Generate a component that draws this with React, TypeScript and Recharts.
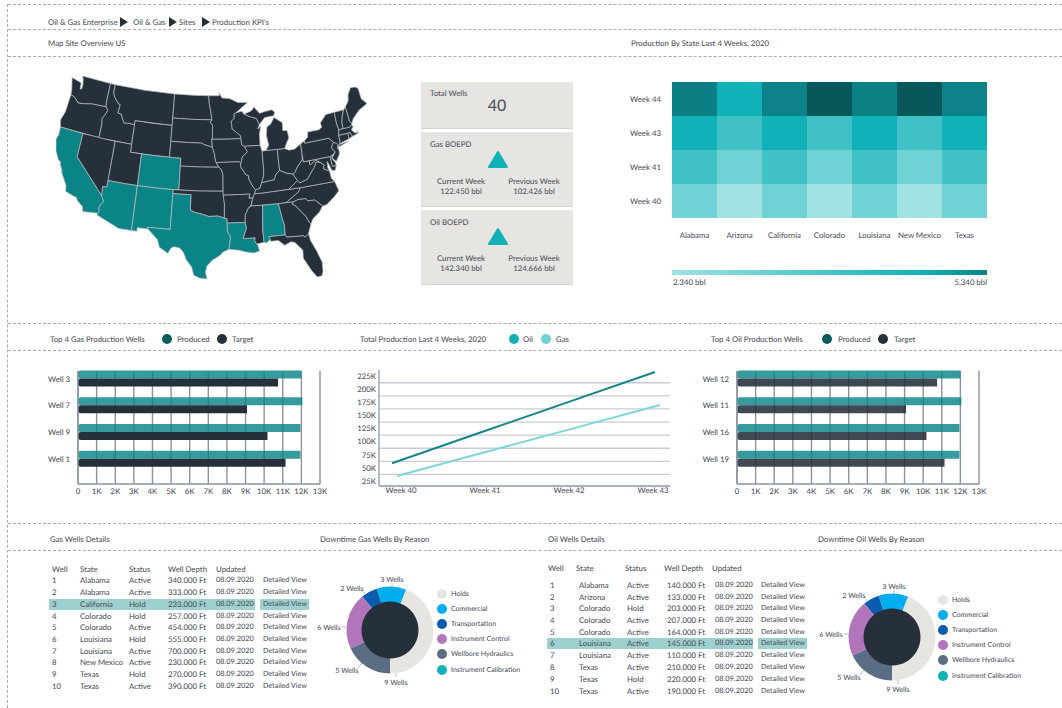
import React from 'react';
import {
  BarChart, Bar, XAxis, YAxis, CartesianGrid, ComposedChart, Line, ScatterChart, Scatter, PieChart, Pie, Cell,
} from 'recharts';

const FONT = 'Lato, sans-serif';
const TEXT = '#50565e';
const TEAL = '#0b8488';
const DARK = '#25303a';

// ---------- data ----------
const barTicks = [0, 1000, 2000, 3000, 4000, 5000, 6000, 7000, 8000, 9000, 10000, 11000, 12000, 13000];
const gasWellNames = ['Well 3', 'Well 7', 'Well 9', 'Well 1'];
const gasProduced = [12000, 12050, 11950, 11950];
const gasTarget = [10750, 9080, 10180, 11150];
const oilWellNames = ['Well 12', 'Well 11', 'Well 16', 'Well 19'];
const oilProduced = [12000, 12050, 11950, 11950];
const oilTarget = [10750, 9080, 10180, 11150];

const lineWeeks = ['Week 40', 'Week 41', 'Week 42', 'Week 43'];
const oilTotals = [59000, 117000, 175000, 233000];
const gasTotals = [34500, 80000, 125000, 170000];
const totalTicks = [25000, 50000, 75000, 100000, 125000, 150000, 175000, 200000, 225000];
const totalGridValues = [37500, 62500, 87500, 112500, 137500, 162500, 187500, 212500];

const heatStates = ['Alabama', 'Arizona', 'California', 'Colorado', 'Louisiana', 'New Mexico', 'Texas'];
const heatWeeks = ['Week 44', 'Week 43', 'Week 41', 'Week 40'];
const week44 = [4.85, 4.0, 4.8, 5.34, 4.82, 5.34, 4.8];
const week43 = [4.0, 3.4, 4.0, 3.4, 4.0, 3.4, 4.0];
const week41 = [3.4, 2.9, 3.4, 2.9, 3.4, 2.9, 3.4];
const week40 = [2.9, 2.34, 2.9, 2.34, 2.9, 2.34, 2.9];
const heatValues = [week44, week43, week41, week40];

const reasons = ['Holds', 'Commercial', 'Transportation', 'Instrument Control', 'Wellbore Hydraulics', 'Instrument Calibration'];
const reasonWells = ['9 Wells', '3 Wells', '2 Wells', '6 Wells', '5 Wells', ''];
const reasonShare = [44, 11, 6, 21, 18, 0];

const gasNo = ['1', '2', '3', '4', '5', '6', '7', '8', '9', '10'];
const gasStates = ['Alabama', 'Alabama', 'California', 'Colorado', 'Colorado', 'Louisiana', 'Louisiana', 'New Mexico', 'Texas', 'Texas'];
const gasStatus = ['Active', 'Active', 'Hold', 'Hold', 'Active', 'Hold', 'Active', 'Active', 'Hold', 'Active'];
const gasDepth = ['340.000 Ft', '333.000 Ft', '233.000 Ft', '257.000 Ft', '454.000 Ft', '555.000 Ft', '700.000 Ft', '230.000 Ft', '270.000 Ft', '390.000 Ft'];
const oilNo = ['1', '2', '3', '4', '5', '6', '7', '8', '9', '10'];
const oilStates = ['Alabama', 'Arizona', 'Colorado', 'Colorado', 'Colorado', 'Louisiana', 'Louisiana', 'Texas', 'Texas', 'Texas'];
const oilStatus = ['Active', 'Active', 'Hold', 'Active', 'Active', 'Active', 'Active', 'Active', 'Hold', 'Active'];
const oilDepth = ['140.000 Ft', '133.000 Ft', '203.000 Ft', '207.000 Ft', '164.000 Ft', '145.000 Ft', '110.000 Ft', '210.000 Ft', '220.000 Ft', '190.000 Ft'];

const activeStates = ['CA', 'AZ', 'CO', 'NM', 'TX', 'LA', 'AL'];

// state outlines, [longitude, latitude]
const stateShapes: Record<string, number[][]> = {
  WA: [[-124.7,48.4],[-123.2,48.2],[-122.7,48.1],[-122.6,47.3],[-122.3,47.4],[-122.3,48.0],[-122.5,48.6],[-122.8,49],[-117.03,49],[-117.04,46.4],[-116.92,45.99],[-119,45.93],[-119.6,45.92],[-121.2,45.65],[-122.3,45.55],[-122.8,45.9],[-123.4,46.2],[-124,46.25],[-124.1,46.9]],
  OR: [[-124,46.25],[-123.4,46.2],[-122.8,45.9],[-122.3,45.55],[-121.2,45.65],[-119.6,45.92],[-119,45.93],[-116.92,45.99],[-116.46,45.6],[-116.85,44.9],[-117.2,44.4],[-117.03,43.8],[-117.03,42],[-124.2,42],[-124.55,42.84],[-124.1,44]],
  CA: [[-124.2,42],[-120,42],[-120,39],[-114.63,35],[-114.14,34.3],[-114.43,34],[-114.72,33.4],[-114.52,33.03],[-114.72,32.72],[-117.12,32.53],[-117.3,33.1],[-118.4,33.75],[-118.5,34.03],[-119.2,34.15],[-120.5,34.45],[-120.65,35.15],[-121.9,36.6],[-122,36.96],[-122.5,37.5],[-122.5,37.8],[-123,38],[-123.8,39],[-124.35,40.4],[-124.1,41]],
  NV: [[-120,42],[-114.04,42],[-114.04,36.2],[-114.75,36.1],[-114.63,35],[-120,39]],
  ID: [[-117.03,49],[-116.05,49],[-116.05,48],[-115.7,47.45],[-114.7,46.7],[-114.35,46.65],[-114.5,45.55],[-113.8,45.5],[-113.45,44.95],[-113,44.45],[-112.3,44.55],[-111.05,44.48],[-111.05,42],[-117.03,42],[-117.03,43.8],[-117.2,44.4],[-116.85,44.9],[-116.46,45.6],[-116.92,45.99],[-117.04,46.4]],
  MT: [[-116.05,49],[-110,49],[-104.05,49],[-104.05,45],[-111.05,45],[-111.05,44.48],[-112.3,44.55],[-113,44.45],[-113.45,44.95],[-113.8,45.5],[-114.5,45.55],[-114.35,46.65],[-114.7,46.7],[-115.7,47.45],[-116.05,48]],
  WY: [[-111.05,45],[-107.5,45],[-104.05,45],[-104.05,41],[-107.5,41],[-111.05,41]],
  UT: [[-114.04,42],[-111.05,42],[-111.05,41],[-109.05,41],[-109.05,37],[-111.5,37],[-114.04,37]],
  CO: [[-109.05,41],[-105.5,41],[-102.05,41],[-102.05,37],[-105.5,37],[-109.05,37]],
  AZ: [[-114.04,37],[-111.5,37],[-109.05,37],[-109.05,31.33],[-111.07,31.33],[-114.81,32.5],[-114.72,32.72],[-114.52,33.03],[-114.72,33.4],[-114.43,34],[-114.14,34.3],[-114.63,35],[-114.75,36.1],[-114.04,36.2]],
  NM: [[-109.05,37],[-105.5,37],[-103,37],[-103.04,32],[-106.62,32],[-106.53,31.78],[-108.21,31.78],[-108.21,31.33],[-109.05,31.33]],
  ND: [[-104.05,49],[-100.5,49],[-97.23,49],[-97.1,48],[-96.8,47],[-96.56,45.94],[-100.5,45.94],[-104.05,45.94]],
  SD: [[-104.05,45.94],[-100.5,45.94],[-96.56,45.94],[-96.85,45.6],[-96.45,45.3],[-96.45,43.5],[-96.6,43.5],[-96.44,42.49],[-97.9,42.8],[-98.5,43],[-101,43],[-104.05,43]],
  NE: [[-104.05,43],[-101,43],[-98.5,43],[-97.9,42.8],[-96.44,42.49],[-96.1,41.7],[-95.85,40.7],[-95.31,40],[-98.5,40],[-102.05,40],[-102.05,41],[-104.05,41]],
  KS: [[-102.05,40],[-98.5,40],[-95.31,40],[-94.9,39.75],[-94.61,39.1],[-94.62,37],[-98.5,37],[-102.05,37]],
  OK: [[-103,37],[-98.5,37],[-94.62,37],[-94.43,35.4],[-94.48,33.64],[-95.5,33.9],[-97,33.85],[-98,34.1],[-99.2,34.3],[-100,34.56],[-100,36.5],[-103,36.5]],
  TX: [[-103,36.5],[-100,36.5],[-100,34.56],[-99.2,34.3],[-98,34.1],[-97,33.85],[-95.5,33.9],[-94.48,33.64],[-94.04,33.55],[-94.04,33],[-94.04,32],[-93.55,31.2],[-93.7,30.5],[-93.84,29.7],[-94.7,29.4],[-95.3,28.9],[-96.4,28.35],[-97.2,27.6],[-97.4,26.8],[-97.15,25.96],[-98.2,26.05],[-99.1,26.4],[-99.5,27.5],[-100.3,28.3],[-100.8,29.25],[-101.4,29.77],[-102.3,29.88],[-102.7,29.7],[-103.15,28.98],[-104.5,29.65],[-104.9,30.6],[-106.53,31.78],[-106.62,32],[-103.04,32]],
  MN: [[-97.23,49],[-95.15,49],[-95.15,49.38],[-94.6,48.72],[-93,48.6],[-91.5,48.07],[-89.6,48],[-92,46.75],[-92.3,46.65],[-92.3,46.1],[-92.9,45.7],[-92.75,44.75],[-91.25,43.85],[-91.22,43.5],[-94,43.5],[-96.45,43.5],[-96.45,45.3],[-96.85,45.6],[-96.56,45.94],[-96.8,47],[-97.1,48]],
  IA: [[-96.45,43.5],[-94,43.5],[-91.22,43.5],[-91.1,42.7],[-90.64,42.5],[-90.15,41.8],[-91.1,41.2],[-91.42,40.38],[-91.73,40.61],[-95.77,40.58],[-95.85,40.7],[-96.1,41.7],[-96.44,42.49],[-96.6,43.5]],
  MO: [[-95.77,40.58],[-91.73,40.61],[-91.42,40.38],[-91.5,40],[-90.7,39],[-90.2,38.8],[-90.2,38.4],[-89.5,37.3],[-89.15,36.98],[-89.4,36.5],[-89.7,36],[-90.37,36],[-90.15,36.5],[-94.62,36.5],[-94.62,37],[-94.61,39.1],[-94.9,39.75],[-95.31,40]],
  AR: [[-94.62,36.5],[-90.15,36.5],[-90.37,36],[-89.7,36],[-90.1,35.1],[-90.6,34.7],[-91.1,33.9],[-91.17,33],[-94.04,33],[-94.04,33.55],[-94.48,33.64],[-94.43,35.4]],
  LA: [[-94.04,33],[-91.17,33],[-91,32.3],[-91.6,31],[-89.73,31],[-89.85,30.65],[-89.55,30.2],[-89.4,30.05],[-89.2,29.3],[-90.1,29.1],[-91.3,29.3],[-92.3,29.55],[-93.84,29.7],[-93.7,30.5],[-93.55,31.2],[-94.04,32]],
  WI: [[-92.3,46.65],[-92,46.75],[-90.8,46.95],[-90.4,46.55],[-89.1,46.13],[-88.1,45.9],[-87.6,45.1],[-88,44.55],[-87.4,44.9],[-87.75,43.9],[-87.8,42.49],[-90.64,42.5],[-91.1,42.7],[-91.22,43.5],[-91.25,43.85],[-92.75,44.75],[-92.9,45.7],[-92.3,46.1]],
  IL: [[-90.64,42.5],[-87.8,42.49],[-87.53,41.7],[-87.53,39.35],[-87.6,38.7],[-88.05,37.8],[-88.45,37.1],[-89.15,36.98],[-89.5,37.3],[-90.2,38.4],[-90.2,38.8],[-90.7,39],[-91.5,40],[-91.42,40.38],[-91.1,41.2],[-90.15,41.8]],
  IN: [[-87.53,41.7],[-87.2,41.75],[-86.82,41.76],[-84.8,41.76],[-84.8,39.1],[-85.45,38.7],[-85.9,38],[-86.8,37.95],[-88.05,37.8],[-87.6,38.7],[-87.53,39.35]],
  OH: [[-84.8,41.76],[-83.45,41.73],[-82.7,41.45],[-81.7,41.5],[-80.52,42],[-80.52,40.64],[-80.65,40],[-81.7,39.2],[-82.2,38.6],[-82.6,38.4],[-83.7,38.65],[-84.8,39.1]],
  MI: [[-86.82,41.76],[-84.8,41.76],[-83.45,41.73],[-83.1,42.25],[-82.45,43],[-82.6,43.9],[-83.4,44],[-83.3,45],[-84.75,45.78],[-85.5,45],[-86.25,44.7],[-86.5,43.7],[-86.25,42.4]],
  UP: [[-90.4,46.55],[-89.1,46.13],[-88.1,45.9],[-87.6,45.1],[-86.5,45.9],[-84.75,46],[-84.5,46.45],[-85,46.77],[-86.2,46.67],[-87.4,46.5],[-88.4,47.35],[-88.2,47.45],[-89,46.9]],
  KY: [[-89.4,36.5],[-89.15,36.98],[-88.45,37.1],[-88.05,37.8],[-86.8,37.95],[-85.9,38],[-85.45,38.7],[-84.8,39.1],[-83.7,38.65],[-82.6,38.4],[-81.97,37.54],[-83.67,36.6],[-88.07,36.5]],
  TN: [[-90.1,35],[-89.7,36],[-89.4,36.5],[-88.07,36.5],[-83.67,36.6],[-81.68,36.59],[-82.1,36.1],[-84.32,35],[-85.6,34.98],[-88.2,35]],
  MS: [[-90.1,35],[-88.2,35],[-88.47,31.9],[-88.4,30.35],[-89.55,30.2],[-89.85,30.65],[-89.73,31],[-91.6,31],[-91,32.3],[-91.17,33],[-91.1,33.9],[-90.6,34.7]],
  AL: [[-88.2,35],[-85.6,34.98],[-85.18,32.87],[-85,32.3],[-85.05,31],[-87.6,31],[-87.4,30.65],[-88,30.25],[-88.4,30.35],[-88.47,31.9]],
  GA: [[-85.6,34.98],[-83.1,35],[-83.35,34.7],[-82.9,34.48],[-81.5,33],[-81,32.05],[-80.85,31.9],[-81.45,30.72],[-82.05,30.37],[-82.2,30.57],[-84.86,30.7],[-85.05,31],[-85,32.3],[-85.18,32.87]],
  FL: [[-87.6,31],[-85.05,31],[-84.86,30.7],[-82.2,30.57],[-82.05,30.37],[-81.45,30.72],[-81.3,29.9],[-80.6,28.4],[-80.05,26.9],[-80.15,25.75],[-80.4,25.2],[-81.1,25.15],[-81.8,26.1],[-82.75,27.8],[-82.65,28.8],[-83.7,29.9],[-84.3,30.05],[-85.3,29.7],[-86.2,30.4],[-87.4,30.4],[-87.4,30.65]],
  SC: [[-83.1,35],[-82.3,35.2],[-81.05,35.15],[-80.8,34.82],[-79.67,34.8],[-78.55,33.86],[-79.2,33.2],[-80.4,32.5],[-80.85,31.9],[-81,32.05],[-81.5,33],[-82.9,34.48],[-83.35,34.7]],
  NC: [[-84.32,35],[-82.1,36.1],[-81.68,36.59],[-75.87,36.55],[-75.5,35.3],[-76.5,34.65],[-77.9,33.9],[-78.55,33.86],[-79.67,34.8],[-80.8,34.82],[-81.05,35.15],[-82.3,35.2],[-83.1,35]],
  VA: [[-83.67,36.6],[-81.97,37.54],[-81.68,37.2],[-80.3,37.5],[-79.3,38.42],[-78.87,38.77],[-78.35,39.4],[-77.72,39.32],[-77.05,38.85],[-77.3,38.4],[-76.35,37.95],[-76.3,37],[-75.87,36.55],[-81.68,36.59]],
  WV: [[-81.97,37.54],[-82.6,38.4],[-82.2,38.6],[-81.7,39.2],[-80.65,40],[-80.52,40.64],[-80.52,39.72],[-79.48,39.72],[-79.48,39.2],[-78.35,39.63],[-77.72,39.32],[-78.35,39.4],[-78.87,38.77],[-79.3,38.42],[-80.3,37.5],[-81.68,37.2]],
  MD: [[-79.48,39.72],[-75.79,39.72],[-75.7,38.46],[-75.05,38.45],[-75.4,37.9],[-75.95,37.95],[-76.3,38.9],[-76.45,39.2],[-76.55,38.4],[-76.35,37.95],[-77.3,38.4],[-77.05,38.85],[-77.72,39.32],[-78.35,39.63],[-79.48,39.2]],
  DE: [[-75.79,39.72],[-75.4,39.8],[-75.55,39.45],[-75.1,38.8],[-75.05,38.45],[-75.7,38.46]],
  PA: [[-80.52,42],[-79.76,42.27],[-79.76,42],[-75.35,42],[-74.7,41.36],[-75.1,40.95],[-75.2,40.65],[-74.72,40.15],[-75.4,39.8],[-75.79,39.72],[-80.52,39.72],[-80.52,40.64]],
  NY: [[-79.76,42.27],[-79.05,42.7],[-78.9,43.3],[-76.8,43.3],[-76.2,43.55],[-76.3,44.1],[-75,44.98],[-73.35,45],[-73.4,43.6],[-73.25,42.75],[-73.5,42.05],[-73.5,41.3],[-73.65,41],[-74,40.7],[-74.2,41],[-74.7,41.36],[-75.35,42],[-79.76,42]],
  LI: [[-74,40.6],[-72,41.05],[-73.7,40.9]],
  NJ: [[-74.7,41.36],[-74,41],[-74.2,40.45],[-74,40.4],[-74.1,39.75],[-74.9,38.95],[-75.5,39.5],[-74.72,40.15],[-75.2,40.65],[-75.1,40.95]],
  CT: [[-73.5,42.05],[-71.8,42.02],[-71.85,41.32],[-73.65,41],[-73.5,41.3]],
  RI: [[-71.8,42.02],[-71.38,42.02],[-71.15,41.5],[-71.85,41.32]],
  MA: [[-73.25,42.75],[-71.3,42.7],[-70.8,42.87],[-70.6,42.65],[-71.05,42.3],[-70.55,41.8],[-70,41.8],[-70.1,42.05],[-69.95,41.7],[-70.65,41.55],[-71.15,41.5],[-71.38,42.02],[-73.5,42.05]],
  VT: [[-73.35,45],[-71.5,45],[-72.05,44.3],[-72.4,43.5],[-72.46,42.73],[-73.25,42.75],[-73.4,43.6]],
  NH: [[-71.5,45],[-71.08,45.3],[-70.98,43.4],[-70.7,43.07],[-70.8,42.87],[-71.3,42.7],[-72.46,42.73],[-72.4,43.5],[-72.05,44.3]],
  ME: [[-71.08,45.3],[-70.3,45.9],[-70,46.7],[-69.2,47.45],[-68.3,47.35],[-67.8,47.07],[-67.8,45.7],[-67,44.9],[-68.8,44.4],[-70.2,43.6],[-70.7,43.07],[-70.98,43.4]],
};

// ---------- derived tables ----------
const rad = Math.PI / 180;
const n = (Math.sin(29.5 * rad) + Math.sin(45.5 * rad)) / 2;
const C = Math.cos(29.5 * rad) ** 2 + 2 * n * Math.sin(29.5 * rad);
const rho = (lat: number) => Math.sqrt(C - 2 * n * Math.sin(lat * rad)) / n;
const project = ([lon, lat]: number[]) => {
  const t = n * (lon + 96) * rad;
  return { x: rho(lat) * Math.sin(t), y: rho(37.5) - rho(lat) * Math.cos(t) };
};
const stateRows = Object.keys(stateShapes).map((id) => ({ id, points: stateShapes[id].map(project) }));
const allPts = stateRows.flatMap((s) => s.points);
const xDomain = [Math.min(...allPts.map((p) => p.x)), Math.max(...allPts.map((p) => p.x))];
const yDomain = [Math.min(...allPts.map((p) => p.y)), Math.max(...allPts.map((p) => p.y))];

const heatRows = heatWeeks.flatMap((week, w) => heatStates.map((state, s) => ({ state, week, value: heatValues[w][s] })));
const HEAT_RAMP: [number, number[]][] = [
  [2.34, [161, 226, 227]], [2.9, [112, 210, 213]], [3.4, [63, 193, 198]], [4.0, [16, 177, 183]], [4.8, [11, 131, 136]], [5.34, [7, 88, 91]],
];
const heatColor = (v: number) => {
  for (let i = 1; i < HEAT_RAMP.length; i++) {
    if (v <= HEAT_RAMP[i][0]) {
      const [a, ca] = HEAT_RAMP[i - 1];
      const [b, cb] = HEAT_RAMP[i];
      const t = (v - a) / (b - a);
      return `rgb(${ca.map((c, k) => Math.round(c + (cb[k] - c) * t)).join(',')})`;
    }
  }
  return 'rgb(7,88,91)';
};

const lineRows = lineWeeks.map((week, i) => ({ week, oil: oilTotals[i], gas: gasTotals[i] }));
const gasBarRows = gasWellNames.map((well, i) => ({ well, produced: gasProduced[i], target: gasTarget[i] }));
const oilBarRows = oilWellNames.map((well, i) => ({ well, produced: oilProduced[i], target: oilTarget[i] }));
const pieRows = reasons.map((name, i) => ({ name, share: reasonShare[i], wells: reasonWells[i] }));
const coreRows = [{ name: 'core', share: 1 }];
const REASON_COLORS = ['#e6e5e1', '#00aeef', '#0b5cad', '#b274bb', '#5b6d85', '#10b1b7'];

// ---------- small pieces ----------
const FS = 7.8;
const T = ({ x, y, children, size = FS, color = TEXT, anchor = 'left', weight = 500 }: any) => (
  <div
    style={{
      position: 'absolute', left: anchor === 'left' ? x : anchor === 'center' ? x - 100 : x - 200,
      width: anchor === 'left' ? undefined : 200,
      top: y - 7, height: 14, lineHeight: '14px', fontSize: size, color, fontWeight: weight,
      textAlign: anchor as any, whiteSpace: 'nowrap', fontFamily: FONT,
    }}
  >
    {children}
  </div>
);
const HLine = ({ y }: { y: number }) => (
  <div style={{ position: 'absolute', left: 8, right: 0, top: y, borderTop: '1px dashed #a9acaf' }} />
);
const Dot = ({ x, y, color, r = 5 }: any) => (
  <div style={{ position: 'absolute', left: x - r, top: y - r, width: 2 * r, height: 2 * r, borderRadius: '50%', background: color }} />
);
const Arrow = ({ x, y }: any) => (
  <svg style={{ position: 'absolute', left: x, top: y - 5 }} width={8} height={10}>
    <polygon points="0,0 8,5 0,10" fill={DARK} />
  </svg>
);
const Triangle = ({ x, y }: any) => (
  <svg style={{ position: 'absolute', left: x - 11, top: y }} width={22} height={20}>
    <polygon points="11,2 20,17 2,17" fill="#10b1b7" stroke="#10b1b7" strokeWidth={2} strokeLinejoin="round" />
  </svg>
);
const Box = ({ y, h }: any) => (
  <div style={{ position: 'absolute', left: 421, width: 152, top: y, height: h, background: '#e6e5e1', borderBottom: '1px solid #d6d5d1' }} />
);

const tickStyle = { fontSize: FS, fill: TEXT, fontFamily: FONT, fontWeight: 500 };

const WellBars = ({ rows, left, targetOpacity }: any) => (
  <div style={{ position: 'absolute', left, top: 360 }}>
    <BarChart
      width={310} height={140} data={rows} layout="vertical" barSize={8} barGap={0}
      margin={{ top: 11, right: 10, bottom: 0, left: 0 }}
    >
      <CartesianGrid horizontal={false} stroke="#8a93a3" strokeWidth={1.4} />
      <XAxis
        type="number" domain={[0, 13000]} ticks={barTicks} interval={0} height={16} tickLine={false} tickSize={2}
        stroke="#8a93a3" strokeWidth={1.4} tick={tickStyle}
        tickFormatter={(v: number) => (v === 0 ? '0' : `${v / 1000}K`)}
      />
      <YAxis
        type="category" dataKey="well" width={58} interval={0} tickLine={false} tickSize={6}
        stroke="#8a93a3" strokeWidth={1.4} padding={{ top: -5.4, bottom: 11.5 }} tick={tickStyle}
      />
      <Bar dataKey="produced" fill={TEAL} fillOpacity={0.82} radius={[3, 0, 0, 3]} isAnimationActive={false} />
      <Bar dataKey="target" fill={DARK} fillOpacity={targetOpacity} radius={[3, 0, 0, 3]} isAnimationActive={false} />
    </BarChart>
  </div>
);

const LABEL_SPOTS = [
  { text: [6, 52], from: [6, 43], to: [6, 47] },
  { text: [2, -51], from: [2, -43], to: [2, -47] },
  { text: [-38, -42], from: [-25, -36], to: [-28, -40] },
  { text: [-61, -3], from: [-44, -3], to: [-48, -3] },
  { text: [-43, 40], from: [-28, 33], to: [-32, 38] },
];
const renderPieLabel = (p: any) => {
  const spot = LABEL_SPOTS[p.index];
  if (!spot) return null;
  return (
    <g>
      <line x1={p.cx + spot.from[0]} y1={p.cy + spot.from[1]} x2={p.cx + spot.to[0]} y2={p.cy + spot.to[1]} stroke="#9aa0a6" strokeWidth={0.7} />
      <text x={p.cx + spot.text[0]} y={p.cy + spot.text[1]} textAnchor="middle" dominantBaseline="central" fontSize={7.2} fill={TEXT} fontFamily={FONT} fontWeight={500}>
        {p.payload.wells}
      </text>
    </g>
  );
};

const Donut = ({ cx, cy, legendX, legendY }: any) => (
  <>
    <div style={{ position: 'absolute', left: cx - 80, top: cy - 70 }}>
      <PieChart width={160} height={140} margin={{ top: 0, right: 0, bottom: 0, left: 0 }}>
        <Pie
          data={pieRows} dataKey="share" nameKey="name" cx={80} cy={70} outerRadius={43.5} innerRadius={28}
          startAngle={270} endAngle={630} stroke="none" isAnimationActive={false} label={renderPieLabel} labelLine={false}
        >
          {pieRows.map((_, i) => <Cell key={i} fill={REASON_COLORS[i]} />)}
        </Pie>
        <Pie data={coreRows} dataKey="share" cx={80} cy={70} outerRadius={28.5} innerRadius={0} fill={DARK} stroke="none" isAnimationActive={false} />
      </PieChart>
    </div>
    {reasons.map((r, i) => (
      <React.Fragment key={r}>
        <Dot x={legendX} y={legendY + i * 15.1} color={REASON_COLORS[i]} />
        <T x={legendX + 9} y={legendY + i * 15.1} size={7}>{r}</T>
      </React.Fragment>
    ))}
  </>
);

const WellTable = ({ headX, cellX, rows, headY, rowY, no, states, status, depth, highlight }: any) => (
  <>
    <div style={{ position: 'absolute', left: cellX[0] - 3, width: cellX[5] - cellX[0] - 5, top: rowY[highlight] - 5.5, height: 11, background: '#9fd0d0' }} />
    <div style={{ position: 'absolute', left: cellX[5] - 3, width: 49, top: rowY[highlight] - 5.5, height: 11, background: '#9fd0d0' }} />
    {['Well', 'State', 'Status', 'Well Depth', 'Updated'].map((h, i) => <T key={h} x={headX[i]} y={headY}>{h}</T>)}
    {rows.map((_: any, i: number) => (
      <React.Fragment key={i}>
        <T x={cellX[0]} y={rowY[i]}>{no[i]}</T>
        <T x={cellX[1]} y={rowY[i]}>{states[i]}</T>
        <T x={cellX[2]} y={rowY[i]}>{status[i]}</T>
        <T x={cellX[3]} y={rowY[i]}>{depth[i]}</T>
        <T x={cellX[4]} y={rowY[i]} size={7.4}>08.09.2020</T>
        <T x={cellX[5]} y={rowY[i]} size={7.1}>Detailed View</T>
      </React.Fragment>
    ))}
  </>
);

const noShape = () => <g />;
const stateLine = (id: string) => (p: any) => {
  const d = p.points.map((pt: any, i: number) => `${i ? 'L' : 'M'}${pt.x} ${pt.y}`).join(' ') + 'Z';
  return <path d={d} fill={activeStates.includes(id) ? TEAL : DARK} stroke="#b9bcbf" strokeWidth={0.7} strokeLinejoin="round" />;
};

const HEAT_W = 315 / heatStates.length;
const HEAT_H = 136 / heatWeeks.length;
const heatCell = (p: any) => (
  <rect x={p.cx - HEAT_W / 2} y={p.cy - HEAT_H / 2} width={HEAT_W} height={HEAT_H} fill={heatColor(p.payload.value)} />
);

const FRAME = '#8f98a8';

export default function App() {
  return (
    <div style={{ position: 'absolute', left: 0, top: 0, width: 1062, height: 708, background: '#fff', overflow: 'hidden', fontFamily: FONT, textRendering: 'geometricPrecision' }}>
      {/* frame */}
      <div style={{ position: 'absolute', left: 7, top: 4, bottom: 0, borderLeft: '1px dashed #a9acaf' }} />
      {[4, 29, 56, 323, 350, 523, 550].map((y) => <HLine key={y} y={y} />)}

      {/* breadcrumb */}
      <T x={48} y={22}>Oil &amp; Gas Enterprise</T>
      <Arrow x={120} y={22} />
      <T x={133} y={22}>Oil &amp; Gas</T>
      <Arrow x={169} y={22} />
      <T x={179} y={22}>Sites</T>
      <Arrow x={202} y={22} />
      <T x={212} y={22}>Production KPI's</T>
      <T x={48} y={43}>Map Site Overview US</T>
      <T x={631} y={43}>Production By State Last 4 Weeks, 2020</T>

      {/* map */}
      <div style={{ position: 'absolute', left: 56, top: 76 }}>
        <ScatterChart width={311} height={203} margin={{ top: 0, right: 0, bottom: 0, left: 0 }}>
          <XAxis type="number" dataKey="x" domain={xDomain} hide allowDataOverflow />
          <YAxis type="number" dataKey="y" domain={yDomain} hide allowDataOverflow />
          {stateRows.map((s) => (
            <Scatter key={s.id} data={s.points} fill={DARK} line={stateLine(s.id)} shape={noShape} isAnimationActive={false} />
          ))}
        </ScatterChart>
      </div>

      {/* KPI boxes */}
      <Box y={82} h={46} />
      <Box y={132} h={74} />
      <Box y={210} h={74} />
      <T x={430} y={93}>Total Wells</T>
      <T x={497} y={106} size={16} anchor="center">40</T>
      <T x={430} y={144}>Gas BOEPD</T>
      <Triangle x={498} y={150} />
      <T x={461} y={181} anchor="center">Current Week</T>
      <T x={461} y={191} anchor="center">122.450 bbl</T>
      <T x={534} y={181} anchor="center">Previous Week</T>
      <T x={534} y={191} anchor="center">102.426 bbl</T>
      <T x={430} y={222}>Oil BOEPD</T>
      <Triangle x={498} y={227} />
      <T x={461} y={258} anchor="center">Current Week</T>
      <T x={461} y={268} anchor="center">142.340 bbl</T>
      <T x={534} y={258} anchor="center">Previous Week</T>
      <T x={534} y={268} anchor="center">124.666 bbl</T>

      {/* heatmap */}
      <div style={{ position: 'absolute', left: 610, top: 82 }}>
        <ScatterChart width={377} height={166} margin={{ top: 0, right: 0, bottom: 0, left: 0 }}>
          <XAxis
            type="category" dataKey="state" scale="band" allowDuplicatedCategory={false} height={30} axisLine={false} tickLine={false}
            interval={0} tickMargin={8} ticks={heatStates} tick={tickStyle}
          />
          <YAxis
            type="category" dataKey="week" scale="band" allowDuplicatedCategory={false} width={62} axisLine={false} tickLine={false}
            interval={0} tickMargin={5} reversed ticks={heatWeeks} tick={tickStyle}
          />
          <Scatter data={heatRows} shape={heatCell} isAnimationActive={false} />
        </ScatterChart>
      </div>
      <div style={{ position: 'absolute', left: 672, top: 270, width: 315, height: 4.5, background: 'linear-gradient(90deg,#a1e2e3 0%,#10b1b7 80%,#0b8388 100%)' }} />
      <T x={673} y={282}>2.340 bbl</T>
      <T x={987} y={282} anchor="right">5.340 bbl</T>

      {/* row two headers */}
      <T x={50} y={339}>Top 4 Gas Production Wells</T>
      <Dot x={167} y={339} color="#0a5b5e" />
      <T x={177} y={339}>Produced</T>
      <Dot x={222} y={339} color={DARK} />
      <T x={232} y={339}>Target</T>
      <T x={360} y={339}>Total Production Last 4 Weeks, 2020</T>
      <Dot x={514} y={339} color="#10b1b7" />
      <T x={523} y={339}>Oil</T>
      <Dot x={546} y={339} color="#70d2d5" />
      <T x={556} y={339}>Gas</T>
      <T x={711} y={339}>Top 4 Oil Production Wells</T>
      <Dot x={827} y={339} color="#0a5b5e" />
      <T x={838} y={339}>Produced</T>
      <Dot x={883} y={339} color={DARK} />
      <T x={894} y={339}>Target</T>

      <WellBars rows={gasBarRows} left={20} targetOpacity={1} />
      <WellBars rows={oilBarRows} left={679} targetOpacity={0.88} />

      {/* total production */}
      <div style={{ position: 'absolute', left: 340, top: 360 }}>
        <ComposedChart width={340} height={146} data={lineRows} margin={{ top: 10, right: 10, bottom: 6, left: 0 }}>
          <CartesianGrid vertical={false} horizontalValues={totalGridValues} stroke="#c9ccd2" strokeWidth={1.3} />
          <XAxis xAxisId="oilX" dataKey="week" hide height={0} padding={{ left: 13, right: 15 }} />
          <XAxis xAxisId="gasX" dataKey="week" hide height={0} padding={{ left: 18, right: 10 }} />
          <XAxis
            xAxisId="labels" dataKey="week" height={14} interval={0} padding={{ left: 22, right: 17 }} tickLine={false} tickSize={0}
            stroke={FRAME} strokeWidth={1.3} tickMargin={1} tick={tickStyle}
          />
          <XAxis xAxisId="top" dataKey="week" orientation="top" height={0} tick={false} tickLine={false} stroke={FRAME} strokeWidth={1.3} />
          <YAxis
            type="number" domain={[15500, 236800]} ticks={totalTicks} width={39} interval={0} tickLine={false} allowDataOverflow
            stroke={FRAME} strokeWidth={1.3} tickMargin={-3} tick={tickStyle}
            tickFormatter={(v: number) => `${v / 1000}K`}
          />
          <YAxis yAxisId="right" orientation="right" type="number" domain={[15500, 236800]} width={0} tick={false} tickLine={false} stroke={FRAME} strokeWidth={1.3} />
          <Line xAxisId="oilX" dataKey="oil" stroke="#14868a" strokeWidth={2} dot={false} isAnimationActive={false} />
          <Line xAxisId="gasX" dataKey="gas" stroke="#7ed6d8" strokeWidth={2} dot={false} isAnimationActive={false} />
        </ComposedChart>
      </div>

      {/* row three headers */}
      <T x={50} y={539}>Gas Wells Details</T>
      <T x={320} y={539}>Downtime Gas Wells By Reason</T>
      <T x={548} y={539}>Oil Wells Details</T>
      <T x={818} y={539}>Downtime Oil Wells By Reason</T>

      <WellTable
        rows={gasNo} no={gasNo} states={gasStates} status={gasStatus} depth={gasDepth} highlight={2}
        headX={[52, 80, 129, 168, 216]} cellX={[52, 80, 129, 168, 216, 263]} headY={569}
        rowY={[580, 592, 604, 616, 627, 639, 651, 662, 674, 686]}
      />
      <WellTable
        rows={oilNo} no={oilNo} states={oilStates} status={oilStatus} depth={oilDepth} highlight={5}
        headX={[548, 576, 625, 664, 712]} cellX={[550, 579, 627, 667, 715, 761]} headY={568}
        rowY={[585, 597, 608, 620, 632, 643, 655, 667, 679, 691]}
      />

      <Donut cx={390} cy={630} legendX={442} legendY={594} />
      <Donut cx={892} cy={637} legendX={943} legendY={600} />
    </div>
  );
}
